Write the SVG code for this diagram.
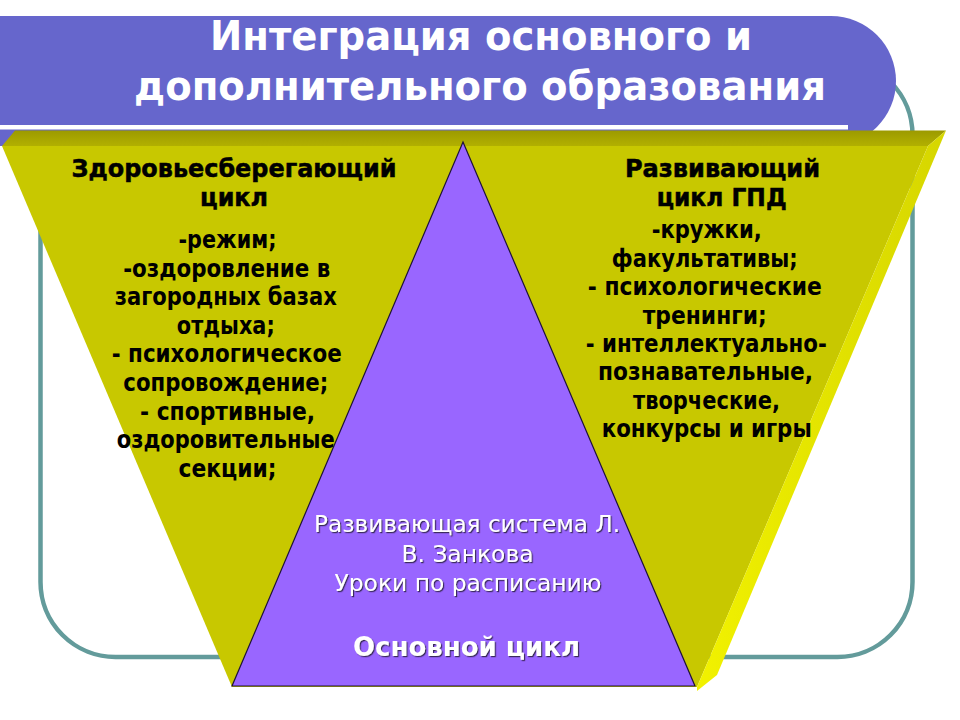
<svg xmlns="http://www.w3.org/2000/svg" width="960" height="720" viewBox="0 0 960 720">
  <defs>
    <linearGradient id="topBevel" x1="0" y1="0" x2="0" y2="1">
      <stop offset="0" stop-color="#9C9A00"/>
      <stop offset="1" stop-color="#B2B000"/>
    </linearGradient>
    <linearGradient id="sideBevel" x1="0" y1="0" x2="1" y2="0">
      <stop offset="0" stop-color="#F2F200"/>
      <stop offset="1" stop-color="#D6D600"/>
    </linearGradient>
    <filter id="shadow" x="-5%" y="-20%" width="110%" height="140%">
      <feDropShadow dx="1.2" dy="1.2" stdDeviation="0.4" flood-color="#2a2040" flood-opacity="0.85"/>
    </filter>
    <style>
      .title { font-family: "DejaVu Sans", "Liberation Sans", sans-serif; font-weight: bold; font-size: 41px; fill: #FFFFFF; text-anchor: middle; }
      .head { font-family: "DejaVu Sans", "Liberation Sans", sans-serif; font-weight: bold; font-size: 24px; fill: #000000; text-anchor: middle; stroke: #000000; stroke-width: 0.5px; }
      .body { font-family: "DejaVu Sans", "Liberation Sans", sans-serif; font-weight: bold; font-size: 25px; fill: #000000; text-anchor: middle; }
      .core { font-family: "DejaVu Sans", "Liberation Sans", sans-serif; font-size: 23px; fill: #FFFFFF; text-anchor: middle; filter: url(#shadow); }
      .coreHead { font-family: "DejaVu Sans", "Liberation Sans", sans-serif; font-weight: bold; font-size: 27px; fill: #FFFFFF; text-anchor: middle; filter: url(#shadow); }
    </style>
  </defs>

  <rect width="960" height="720" fill="#FFFFFF"/>

  <g id="frame">
    <rect x="40.5" y="60" width="872" height="597" rx="75" ry="75" fill="none" stroke="#639B9B" stroke-width="4.5"/>
  </g>

  <g id="banner">
    <rect x="-80" y="16" width="976" height="130" rx="65" ry="65" fill="#6666CC"/>
    <rect x="0" y="125" width="848" height="4.5" fill="#FFFFFF"/>
    <text class="title" x="481" y="50" textLength="542" lengthAdjust="spacingAndGlyphs">Интеграция основного и</text>
    <text class="title" x="480" y="100" textLength="692" lengthAdjust="spacingAndGlyphs">дополнительного образования</text>
  </g>

  <g id="supplement">
    <polygon points="15,130.5 946,130.5 928,146 2,146" fill="url(#topBevel)"/>
    <polygon points="2,146 928,146 697,687 232,687" fill="#C8C800"/>
    <polygon points="946,130.5 717,675 697,691 697,687 928,146" fill="url(#sideBevel)"/>
  </g>

  <g id="core-cycle">
    <polygon points="463,142 695,686 232,686" fill="#9966FF" stroke="#1E1238" stroke-width="1.2" stroke-linejoin="miter"/>
    <text class="core" x="467" y="531.5" textLength="306" lengthAdjust="spacingAndGlyphs">Развивающая система Л.</text>
    <text class="core" x="467.5" y="561.5" textLength="132" lengthAdjust="spacingAndGlyphs">В. Занкова</text>
    <text class="core" x="468" y="590.5" textLength="267" lengthAdjust="spacingAndGlyphs">Уроки по расписанию</text>
    <text class="coreHead" x="466.5" y="656" textLength="227" lengthAdjust="spacingAndGlyphs">Основной цикл</text>
  </g>

  <g id="health-cycle">
    <text class="head" x="234" y="177" textLength="325" lengthAdjust="spacingAndGlyphs">Здоровьесберегающий</text>
    <text class="head" x="234" y="206" textLength="68" lengthAdjust="spacingAndGlyphs">цикл</text>
    <text class="body" x="227.5" y="248" textLength="98" lengthAdjust="spacingAndGlyphs">-режим;</text>
    <text class="body" x="226.7" y="276.6" textLength="207" lengthAdjust="spacingAndGlyphs">-оздоровление в</text>
    <text class="body" x="225.8" y="305.2" textLength="222" lengthAdjust="spacingAndGlyphs">загородных базах</text>
    <text class="body" x="225.8" y="333.8" textLength="98" lengthAdjust="spacingAndGlyphs">отдыха;</text>
    <text class="body" x="226.7" y="362.4" textLength="230" lengthAdjust="spacingAndGlyphs">- психологическое</text>
    <text class="body" x="225.8" y="391" textLength="205" lengthAdjust="spacingAndGlyphs">сопровождение;</text>
    <text class="body" x="227.5" y="419.6" textLength="175" lengthAdjust="spacingAndGlyphs">- спортивные,</text>
    <text class="body" x="225.8" y="448.2" textLength="218" lengthAdjust="spacingAndGlyphs">оздоровительные</text>
    <text class="body" x="227.5" y="476.8" textLength="98" lengthAdjust="spacingAndGlyphs">секции;</text>
  </g>

  <g id="development-cycle">
    <text class="head" x="722.5" y="177" textLength="195" lengthAdjust="spacingAndGlyphs">Развивающий</text>
    <text class="head" x="721.7" y="206" textLength="130" lengthAdjust="spacingAndGlyphs">цикл ГПД</text>
    <text class="body" x="706.7" y="238.3" textLength="110" lengthAdjust="spacingAndGlyphs">-кружки,</text>
    <text class="body" x="704.8" y="266.7" textLength="186" lengthAdjust="spacingAndGlyphs">факультативы;</text>
    <text class="body" x="704.8" y="295.1" textLength="234" lengthAdjust="spacingAndGlyphs">- психологические</text>
    <text class="body" x="704.7" y="323.5" textLength="124" lengthAdjust="spacingAndGlyphs">тренинги;</text>
    <text class="body" x="706.3" y="351.9" textLength="241" lengthAdjust="spacingAndGlyphs">- интеллектуально-</text>
    <text class="body" x="705.5" y="380.3" textLength="215" lengthAdjust="spacingAndGlyphs">познавательные,</text>
    <text class="body" x="706.5" y="408.7" textLength="147" lengthAdjust="spacingAndGlyphs">творческие,</text>
    <text class="body" x="706.7" y="437.1" textLength="210" lengthAdjust="spacingAndGlyphs">конкурсы и игры</text>
  </g>
</svg>
